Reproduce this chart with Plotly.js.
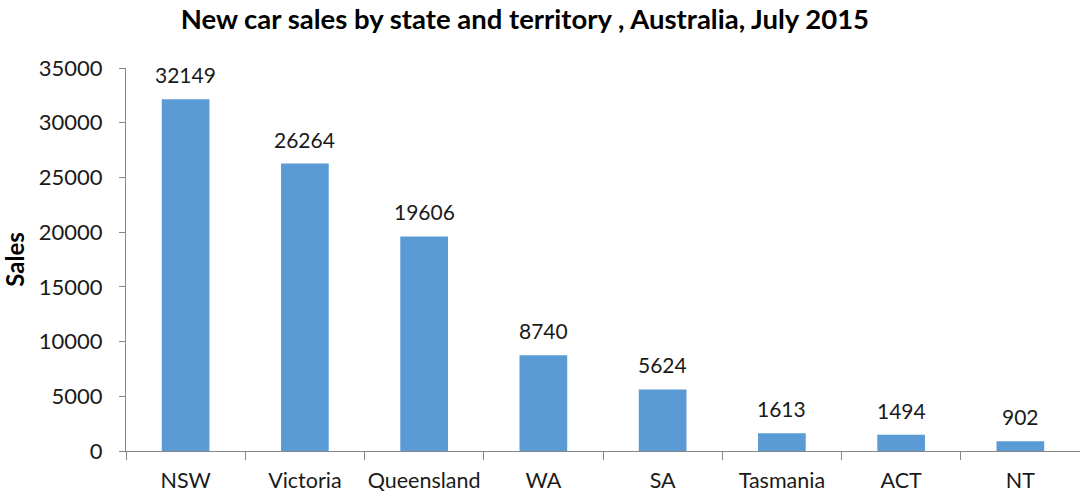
<!DOCTYPE html>
<html><head><meta charset="utf-8">
<script src="https://cdn.plot.ly/plotly-3.0.1.min.js"></script>
<style>html,body{margin:0;padding:0;background:#fff;}#chart{width:1080px;height:498px;}</style>
</head><body><div id="chart"></div>
<script>
const states = ["NSW","Victoria","Queensland","WA","SA","Tasmania","ACT","NT"];
const sales = [32149,26264,19606,8740,5624,1613,1494,902];
const yTicks = [0,5000,10000,15000,20000,25000,30000,35000];

const font = "Lato, 'Open Sans', sans-serif";
const annotations = states.map((s, i) => ({
  x: s, y: sales[i], xref: "x", yref: "y", text: String(sales[i]),
  showarrow: false, yanchor: "bottom", yshift: 10,
  font: {family: font, size: 21, color: "#1a1a1a"}
}));
Plotly.newPlot("chart", [{
  type: "bar", x: states, y: sales,
  marker: {color: "#5b9bd5"},
  hoverinfo: "none"
}], {
  width: 1080, height: 498,
  margin: {l: 126, r: 0, t: 68, b: 47},
  bargap: 0.6,
  plot_bgcolor: "#fff", paper_bgcolor: "#fff",
  annotations: annotations,
  title: {text: "<b>New car sales by state and territory , Australia, July 2015</b>", x: 0.486, xanchor: "center", y: 0.962, yanchor: "middle",
    font: {family: font, size: 27.5, color: "#000"}},
  xaxis: {showline: true, linecolor: "#868686", linewidth: 1, ticks: "outside", tickson: "boundaries", ticklen: 8,
    tickcolor: "#868686", tickfont: {family: font, size: 21.5, color: "#1a1a1a"}, showgrid: false, fixedrange: true,
    tickangle: 0, ticklabelstandoff: 10},
  yaxis: {range: [0, 35000], tickvals: yTicks, ticktext: yTicks.map(String), showline: true, linecolor: "#868686",
    ticks: "outside", ticklen: 6, tickcolor: "#868686", showgrid: false, zeroline: false,
    tickfont: {family: font, size: 22, color: "#1a1a1a"}, ticklabelstandoff: 12,
    title: {text: "<b>Sales</b>", font: {family: font, size: 24, color: "#000"}, standoff: 8}},
  showlegend: false
}, {displayModeBar: false, staticPlot: true});
</script></body></html>
